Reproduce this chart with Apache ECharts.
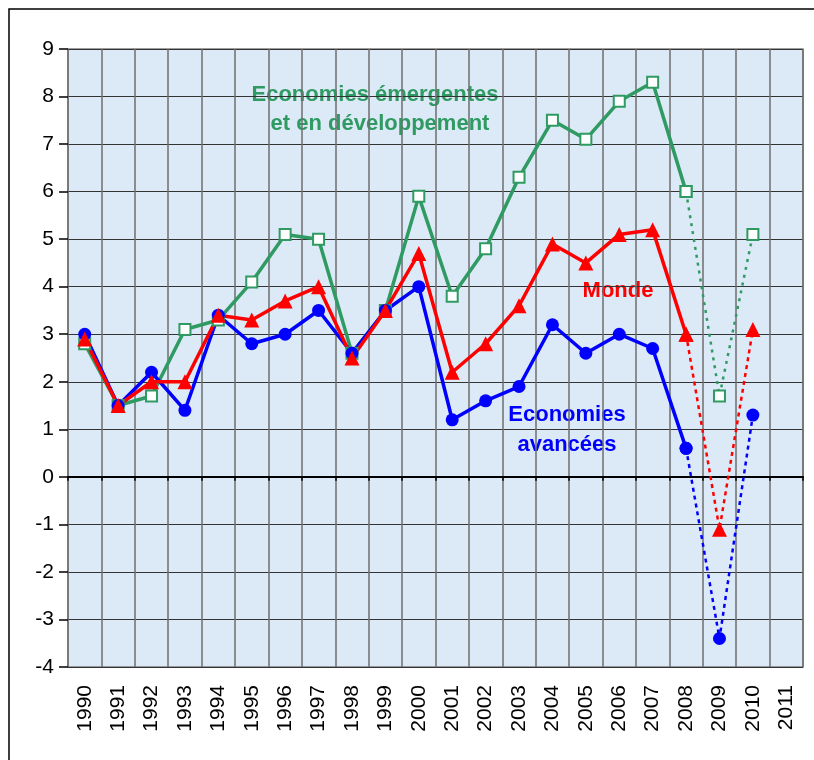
<!DOCTYPE html>
<html>
<head>
<meta charset="utf-8">
<title>Croissance du PIB</title>
<script src="https://cdn.jsdelivr.net/npm/echarts@6/dist/echarts.min.js"></script>
<style>
  html, body { margin: 0; padding: 0; background: #fff; }
  #chart { width: 814px; height: 760px; }
</style>
</head>
<body>
<div id="chart"></div>
<script>
// données
var years = ['1990', '1991', '1992', '1993', '1994', '1995', '1996', '1997', '1998', '1999', '2000',
  '2001', '2002', '2003', '2004', '2005', '2006', '2007', '2008', '2009', '2010', '2011']
var emergents = [2.8, 1.5, 1.7, 3.1, 3.3, 4.1, 5.1, 5.0, 2.6, 3.5, 5.9, 3.8, 4.8, 6.3, 7.5, 7.1, 7.9, 8.3, 6.0, 1.7, 5.1, null]
var avancees = [3.0, 1.5, 2.2, 1.4, 3.4, 2.8, 3.0, 3.5, 2.6, 3.5, 4.0, 1.2, 1.6, 1.9, 3.2, 2.6, 3.0, 2.7, 0.6, -3.4, 1.3, null]
var monde = [2.9, 1.5, 2.0, 2.0, 3.4, 3.3, 3.7, 4.0, 2.5, 3.5, 4.7, 2.2, 2.8, 3.6, 4.9, 4.5, 5.1, 5.2, 3.0, -1.1, 3.1, null]
var lastActual = '2008' // après : projections en pointillés

var green = '#2f9a62'
var blue = '#0000ff'
var red = '#ff0000'
var font = '"Liberation Sans", Arial, sans-serif'

var cut = years.indexOf(lastActual)
function solidPart (arr) {
  return arr.map(function (v, i) { return i <= cut ? v : null })
}
function dottedPart (arr) {
  return arr.map(function (v, i) { return i >= cut ? v : null })
}

function makeSeries (name, arr, color, symbol, size, itemStyle, dash) {
  return [
    {
      name: name + ' (proj.)',
      type: 'line',
      data: dottedPart(arr),
      symbol: symbol,
      symbolSize: size,
      itemStyle: itemStyle,
      lineStyle: { color: color, width: 2.5, type: dash },
      z: 2,
      animation: false
    },
    {
      name: name,
      type: 'line',
      data: solidPart(arr),
      symbol: symbol,
      symbolSize: size,
      itemStyle: itemStyle,
      lineStyle: { color: color, width: 3.5 },
      z: 3,
      animation: false
    }
  ]
}

var series = [].concat(
  makeSeries('Economies émergentes et en développement', emergents, green, 'rect', 11,
    { color: '#ffffff', borderColor: green, borderWidth: 2 }, [3, 5]),
  makeSeries('Economies avancées', avancees, blue, 'circle', 13,
    { color: blue, borderWidth: 0 }, [4, 4]),
  makeSeries('Monde', monde, red, 'triangle', 15,
    { color: red, borderWidth: 0 }, [4, 4])
)

var chart = echarts.init(document.getElementById('chart'))
chart.setOption({
  backgroundColor: '#ffffff',
  animation: false,
  grid: {
    left: 68,
    right: 11,
    top: 49,
    bottom: 93,
    show: true,
    backgroundColor: '#dce9f7',
    borderColor: '#808080',
    borderWidth: 1.5
  },
  xAxis: [
    {
      type: 'category',
      data: years,
      boundaryGap: true,
      axisLine: { show: false, onZero: false },
      axisTick: { show: false },
      axisLabel: {
        rotate: 90,
        margin: 18,
        fontSize: 21,
        color: '#000',
        fontFamily: font,
        interval: 0
      },
      splitLine: { show: true, interval: 0, lineStyle: { color: '#6e6e6e', width: 1.5 } }
    },
    {
      type: 'category',
      data: years,
      position: 'bottom',
      boundaryGap: true,
      axisLine: { show: true, onZero: true, lineStyle: { color: '#000', width: 2 } },
      axisTick: { show: true, interval: 0, length: 4, lineStyle: { color: '#000', width: 1.5 } },
      axisLabel: { show: false },
      splitLine: { show: false }
    }
  ],
  yAxis: {
    type: 'value',
    min: -4,
    max: 9,
    interval: 1,
    axisLine: { show: false },
    axisTick: { show: true, length: 9, lineStyle: { color: '#000', width: 1.5 } },
    axisLabel: { fontSize: 21, color: '#000', fontFamily: font, margin: 14 },
    splitLine: { lineStyle: { color: '#333', width: 1 } }
  },
  series: series,
  graphic: [
    {
      type: 'rect',
      shape: { x: 9, y: 9, width: 840, height: 800 },
      style: { fill: 'none', stroke: '#000', lineWidth: 1.5 },
      silent: true
    },
    {
      type: 'text', x: 375, y: 95,
      style: { text: 'Economies émergentes', fill: green, font: 'bold 22px ' + font, textAlign: 'center', textVerticalAlign: 'middle' }
    },
    {
      type: 'text', x: 380, y: 124,
      style: { text: 'et en développement', fill: green, font: 'bold 22px ' + font, textAlign: 'center', textVerticalAlign: 'middle' }
    },
    {
      type: 'text', x: 618, y: 291,
      style: { text: 'Monde', fill: red, font: 'bold 22px ' + font, textAlign: 'center', textVerticalAlign: 'middle' }
    },
    {
      type: 'text', x: 567, y: 415,
      style: { text: 'Economies', fill: blue, font: 'bold 22px ' + font, textAlign: 'center', textVerticalAlign: 'middle' }
    },
    {
      type: 'text', x: 567, y: 445,
      style: { text: 'avancées', fill: blue, font: 'bold 22px ' + font, textAlign: 'center', textVerticalAlign: 'middle' }
    }
  ]
})
</script>
</body>
</html>
